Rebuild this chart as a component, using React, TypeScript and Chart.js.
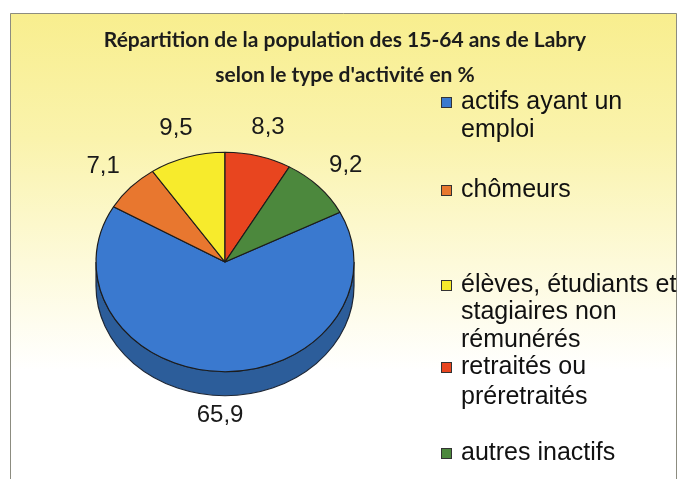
import React, { useEffect, useRef } from "react";
import { Chart, registerables, layouts } from "chart.js";

Chart.register(...registerables);

// ---- data ----
const TITLE_LINES = [
  "Répartition de la population des 15-64 ans de Labry",
  "selon le type d'activité en %",
];
const CATEGORIES = [
  "actifs ayant un emploi",
  "chômeurs",
  "élèves, étudiants et stagiaires non rémunérés",
  "retraités ou préretraités",
  "autres inactifs",
];
const LEGEND_LINES = [
  ["actifs ayant un", "emploi"],
  ["chômeurs"],
  ["élèves, étudiants et", "stagiaires non", "rémunérés"],
  ["retraités ou", "préretraités"],
  ["autres inactifs"],
];
const VALUES = [65.9, 7.1, 9.5, 8.3, 9.2];

// ---- styles ----
const COLORS = ["#3a79cf", "#e8772f", "#f7eb2c", "#e8451f", "#4c883d"];
const SIDE_COLORS = ["#2c5d9a", "#a9541f", "#b8ad1d", "#a83116", "#35622a"];
const TILT = 0.85;
const DEPTH = 24;
const LEGEND_Y = [102, 190, 285, 367, 453];
const LEGEND_GAP = [28, 28, 27.5, 30, 28];
const LABEL_FONT = '24px "Liberation Sans", Arial, sans-serif';
const LEGEND_FONT = '25px "Liberation Sans", Arial, sans-serif';

const fmt = (v: number) => String(v).replace(".", ",");

const background = {
  id: "background",
  beforeDraw(chart: any) {
    const { ctx, width, height } = chart;
    ctx.save();
    ctx.fillStyle = "#ffffff";
    ctx.fillRect(0, 0, width, height);
    const g = ctx.createLinearGradient(0, 13, 0, 370);
    g.addColorStop(0, "rgb(248,238,142)");
    g.addColorStop(0.35, "rgb(250,243,172)");
    g.addColorStop(0.7, "rgb(253,250,218)");
    g.addColorStop(1, "rgb(255,255,255)");
    ctx.fillStyle = g;
    ctx.fillRect(10, 13, 667, height);
    ctx.strokeStyle = "#8c8c80";
    ctx.lineWidth = 1;
    ctx.beginPath();
    ctx.moveTo(10.5, height);
    ctx.lineTo(10.5, 13.5);
    ctx.lineTo(676.5, 13.5);
    ctx.lineTo(676.5, height);
    ctx.stroke();
    ctx.restore();
  },
};

const pie3d = {
  id: "pie3d",
  beforeDatasetsDraw(chart: any) {
    const ctx = chart.ctx;
    const meta = chart.getDatasetMeta(0);
    const a0el = meta.data[0];
    const cx = a0el.x;
    const cy = a0el.y;
    ctx.save();
    ctx.translate(0, cy);
    ctx.scale(1, TILT);
    ctx.translate(0, -cy);
    const D = DEPTH / TILT;
    meta.data.forEach((arc: any, i: number) => {
      const s = arc.startAngle;
      const e = arc.endAngle;
      const r = arc.outerRadius;
      for (let n = -1; n <= 2; n++) {
        const lo = 2 * Math.PI * n;
        const hi = lo + Math.PI;
        const a0 = Math.max(s, lo);
        const a1 = Math.min(e, hi);
        if (a1 > a0) {
          ctx.beginPath();
          ctx.arc(cx, cy, r, a0, a1);
          ctx.arc(cx, cy + D, r, a1, a0, true);
          ctx.closePath();
          ctx.fillStyle = SIDE_COLORS[i];
          ctx.fill();
          ctx.lineWidth = 1.2;
          ctx.strokeStyle = "#1d2635";
          ctx.stroke();
        }
      }
    });
  },
  afterDatasetsDraw(chart: any) {
    const ctx = chart.ctx;
    ctx.restore();
    const meta = chart.getDatasetMeta(0);
    ctx.save();
    ctx.font = LABEL_FONT;
    ctx.fillStyle = "#1a1a1a";
    ctx.textAlign = "center";
    ctx.textBaseline = "middle";
    meta.data.forEach((arc: any, i: number) => {
      const m = (arc.startAngle + arc.endAngle) / 2;
      const c = Math.cos(m);
      const s = Math.sin(m);
      const txt = fmt(VALUES[i]);
      const w = ctx.measureText(txt).width;
      const R = arc.outerRadius + 21;
      const px = arc.x + (R + w / 2) * c;
      const py = arc.y + (R * TILT + 12) * s + (s > 0 ? s * DEPTH * 0.6 : 0);
      ctx.fillText(txt, px, py);
    });
    ctx.restore();
  },
};

function makeLegendBox(chart: any) {
  return {
    position: "right",
    weight: 10,
    fullSize: false,
    options: {},
    left: 0,
    top: 0,
    right: 0,
    bottom: 0,
    width: 0,
    height: 0,
    isHorizontal() {
      return false;
    },
    update(_mw: number, mh: number) {
      this.width = 240;
      this.height = mh;
    },
    getPadding() {
      return { left: 0, top: 0, right: 0, bottom: 0 };
    },
    draw() {
      const ctx = chart.ctx;
      ctx.save();
      ctx.font = LEGEND_FONT;
      ctx.textBaseline = "middle";
      ctx.textAlign = "left";
      const bx = this.left - 2;
      LEGEND_LINES.forEach((lines, i) => {
        const y0 = LEGEND_Y[i];
        ctx.fillStyle = COLORS[i];
        ctx.fillRect(bx, y0 - 5, 11, 11);
        ctx.strokeStyle = "#333";
        ctx.lineWidth = 1;
        ctx.strokeRect(bx + 0.5, y0 - 4.5, 10, 10);
        ctx.fillStyle = "#111";
        lines.forEach((t, j) => ctx.fillText(t, bx + 20, y0 + j * LEGEND_GAP[i]));
      });
      ctx.restore();
    },
  };
}

const customLegend = {
  id: "customLegend",
  beforeInit(chart: any) {
    layouts.addBox(chart, makeLegendBox(chart) as any);
  },
};

export default function App() {
  const ref = useRef<HTMLCanvasElement | null>(null);
  useEffect(() => {
    if (!ref.current) return;
    const total = VALUES.reduce((a, b) => a + b, 0);
    const rotation = ((VALUES[3] + VALUES[4]) / total) * 360;
    const chart = new Chart(ref.current, {
      type: "pie",
      data: {
        labels: CATEGORIES,
        datasets: [
          {
            data: VALUES,
            backgroundColor: COLORS,
            borderColor: "#1c1c1c",
            borderWidth: 1.2,
          },
        ],
      },
      options: {
        responsive: false,
        animation: false,
        rotation,
        radius: 129,
        layout: { padding: { left: 7, top: 0, right: 0, bottom: 57.5 } },
        plugins: {
          legend: { display: false },
          tooltip: { enabled: false },
          title: {
            display: true,
            text: TITLE_LINES,
            color: "#1c1c1c",
            font: { family: "Lato", weight: "bold", size: 21, lineHeight: "35px" } as any,
            padding: { top: 22.5, bottom: 10 },
          },
        },
      } as any,
      plugins: [background, pie3d, customLegend],
    });
    return () => chart.destroy();
  }, []);
  return (
    <div style={{ position: "absolute", left: 0, top: 0, width: 683, height: 479 }}>
      <canvas ref={ref} width={683} height={479} />
    </div>
  );
}
